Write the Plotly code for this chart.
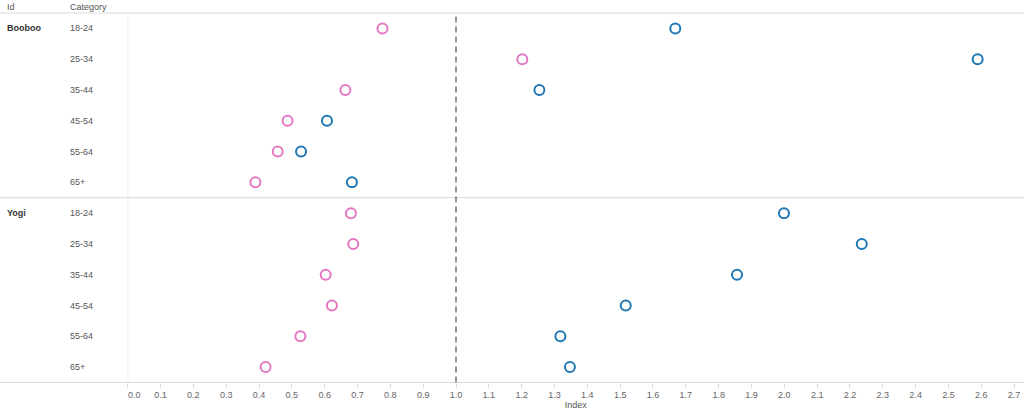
import plotly.graph_objects as go

ids = ["Booboo", "Yogi"]
categories = ["18-24", "25-34", "35-44", "45-54", "55-64", "65+"]
pink_booboo = [0.776, 1.202, 0.663, 0.487, 0.457, 0.389]
blue_booboo = [1.668, 2.589, 1.254, 0.607, 0.528, 0.683]
pink_yogi = [0.680, 0.687, 0.603, 0.622, 0.526, 0.420]
blue_yogi = [1.999, 2.236, 1.856, 1.517, 1.318, 1.347]
x_ticks = [round(i * 0.1, 1) for i in range(28)]
reference_value = 1.0

W, H = 1024, 414
LEFT, TOP, BOTTOM = 127.7, 13.0, 382.5
PX_PER_UNIT = 328.3
PINK = "#e377c2"
BLUE = "#1f77b4"
GRID = "#d9d9d9"
FONT = "Liberation Sans, Arial, sans-serif"

rows = list(range(len(ids) * len(categories)))
pink_all = pink_booboo + pink_yogi
blue_all = blue_booboo + blue_yogi

fig = go.Figure()
marker_common = dict(symbol="circle-open", size=10, line=dict(width=2))
fig.add_trace(go.Scatter(x=pink_all, y=rows, mode="markers", name="Pink",
                         marker=dict(color=PINK, **marker_common), showlegend=False))
fig.add_trace(go.Scatter(x=blue_all, y=rows, mode="markers", name="Blue",
                         marker=dict(color=BLUE, **marker_common), showlegend=False))

ydom = [1 - BOTTOM / H, 1 - TOP / H]
xmax = (W - LEFT) / PX_PER_UNIT

shapes = []
shapes.append(dict(type="line", xref="paper", yref="paper", x0=0, x1=1,
                   y0=ydom[1], y1=ydom[1], line=dict(color=GRID, width=1)))
shapes.append(dict(type="line", xref="paper", yref="paper", x0=0, x1=1,
                   y0=ydom[0], y1=ydom[0], line=dict(color=GRID, width=1)))
shapes.append(dict(type="line", xref="paper", yref="y", x0=0, x1=1,
                   y0=len(categories) - 0.5, y1=len(categories) - 0.5,
                   line=dict(color=GRID, width=1)))
shapes.append(dict(type="line", xref="x", yref="paper", x0=0, x1=0,
                   y0=ydom[0], y1=ydom[1], line=dict(color=GRID, width=1)))
shapes.append(dict(type="line", xref="x", yref="paper", x0=reference_value, x1=reference_value,
                   y0=ydom[0], y1=ydom[1], line=dict(color="#8a8a8a", width=1.8, dash="6px,4px")))

annotations = []
hdr_y = 1 - 7.3 / H
annotations.append(dict(text="Id", xref="paper", yref="paper", x=4.5 / W, y=hdr_y,
                        xanchor="left", yanchor="middle", showarrow=False,
                        font=dict(size=9, color="#555555", family=FONT)))
annotations.append(dict(text="Category", xref="paper", yref="paper", x=67.5 / W, y=hdr_y,
                        xanchor="left", yanchor="middle", showarrow=False,
                        font=dict(size=9, color="#555555", family=FONT)))
for gi, name in enumerate(ids):
    annotations.append(dict(text="<b>" + name + "</b>", xref="paper", yref="y",
                            x=4.5 / W, y=gi * len(categories), xanchor="left", yanchor="middle",
                            showarrow=False, font=dict(size=9, color="#333333", family=FONT)))
    for ci, cat in enumerate(categories):
        annotations.append(dict(text=cat, xref="paper", yref="y", x=67.5 / W,
                                y=gi * len(categories) + ci, xanchor="left", yanchor="middle",
                                showarrow=False, font=dict(size=9, color="#555555", family=FONT)))

# first tick label is nudged right of its tick (edge label), as in the reference
tick_text = [f"{v:.1f}" for v in x_ticks]
first_label = tick_text[0]
tick_text[0] = ""
annotations.append(dict(text=first_label, xref="x", yref="paper", x=x_ticks[0],
                        y=ydom[0], yshift=-12, xshift=7, xanchor="center", yanchor="middle",
                        showarrow=False, font=dict(size=9, color="#666666", family=FONT)))

fig.update_layout(
    width=W, height=H,
    margin=dict(l=0, r=0, t=0, b=0),
    plot_bgcolor="white", paper_bgcolor="white",
    font=dict(family=FONT, size=9, color="#666666"),
    xaxis=dict(domain=[LEFT / W, 1], range=[0, xmax], tickvals=x_ticks,
               ticktext=tick_text, ticks="outside", ticklen=4,
               tickcolor=GRID, showgrid=False, zeroline=False, showline=False,
               tickfont=dict(size=9, color="#666666"),
               title=dict(text="Index", font=dict(size=9, color="#555555"), standoff=0),
               automargin=False, fixedrange=True),
    yaxis=dict(domain=ydom, range=[len(rows) - 0.5, -0.5], showticklabels=False,
               showgrid=False, zeroline=False, showline=False, ticks="",
               automargin=False, fixedrange=True),
    shapes=shapes, annotations=annotations,
)

fig.write_html("out.html", config={"displayModeBar": False},
               post_script="document.body.style.margin='0px';document.body.style.overflow='hidden';")
